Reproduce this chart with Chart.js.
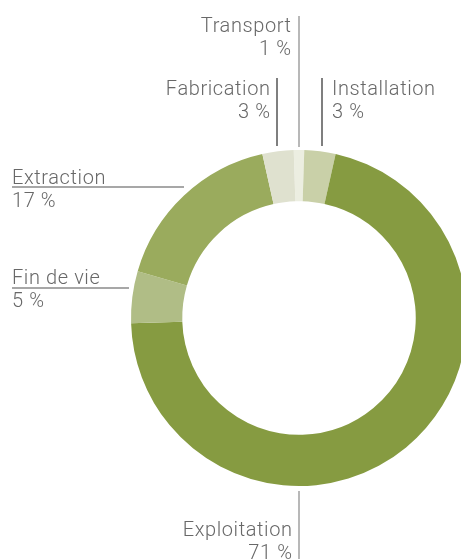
<!DOCTYPE html>
<html>
<head>
<meta charset="utf-8">
<script src="https://cdn.jsdelivr.net/npm/chart.js@4/dist/chart.umd.min.js"></script>
<style>
  html, body { margin: 0; padding: 0; background: #fff; overflow: hidden; }
  #wrap { width: 480px; height: 559px; }
</style>
</head>
<body>
<div id="wrap"><canvas id="lcaChart" width="480" height="559"></canvas></div>
<script>
// Répartition par phase du cycle de vie (sens horaire depuis le haut)
const phases = ['Transport', 'Installation', 'Exploitation', 'Fin de vie', 'Extraction', 'Fabrication'];
const shares = [1, 3, 71, 5, 17, 3];
const sliceColors = ['#eceee1', '#c9d0a8', '#869b41', '#b0bd86', '#9aab5d', '#dfe1cf'];

// placement des étiquettes (texte + trait de rappel)
const labelLayout = {
    'Transport':    { align: 'right', x: 291, y: 32, line: [299, 16, 299, 147], lineColor: '#a0a0a0' },
    'Fabrication':  { align: 'right', x: 270, y: 95, line: [277, 78, 277, 146], lineColor: '#555' },
    'Installation': { align: 'left',  x: 332, y: 95, line: [322, 78, 322, 146], lineColor: '#555' },
    'Extraction':   { align: 'left',  x: 12,  y: 184, line: [12, 187, 184, 187], lineColor: '#8a8a8a' },
    'Fin de vie':   { align: 'left',  x: 12,  y: 284, line: [12, 288, 129, 288], lineColor: '#8a8a8a' },
    'Exploitation': { align: 'right', x: 292, y: 536, line: [299, 491, 299, 559], lineColor: '#a0a0a0' }
};

const calloutPlugin = {
    id: 'callouts',
    afterDraw(chart) {
        const ctx = chart.ctx;
        ctx.save();
        phases.forEach((name, i) => {
            const l = labelLayout[name];
            if (!l) return;
            ctx.strokeStyle = l.lineColor;
            ctx.lineWidth = 1.5;
            ctx.beginPath();
            ctx.moveTo(l.line[0], l.line[1]);
            ctx.lineTo(l.line[2], l.line[3]);
            ctx.stroke();

            ctx.fillStyle = '#686868';
            ctx.font = '300 20px Roboto, "Open Sans", sans-serif';
            ctx.letterSpacing = '0.6px';
            ctx.textAlign = l.align;
            ctx.textBaseline = 'alphabetic';
            // le letterSpacing ajoute un espace après le dernier caractère
            const shift = l.align === 'right' ? 0.6 : 0;
            ctx.fillText(name, l.x + shift, l.y);
            ctx.fillText(shares[i] + ' %', l.x + shift, l.y + 23);
        });
        ctx.restore();
    }
};

new Chart(document.getElementById('lcaChart'), {
    type: 'doughnut',
    data: {
        labels: phases,
        datasets: [{
            data: shares,
            backgroundColor: sliceColors,
            borderWidth: 0
        }]
    },
    options: {
        responsive: false,
        animation: false,
        rotation: -1.8,
        cutout: '69.5%',
        layout: { padding: { left: 131, right: 13, top: 150, bottom: 73 } },
        plugins: {
            legend: { display: false },
            tooltip: { enabled: false }
        }
    },
    plugins: [calloutPlugin]
});
</script>
</body>
</html>
